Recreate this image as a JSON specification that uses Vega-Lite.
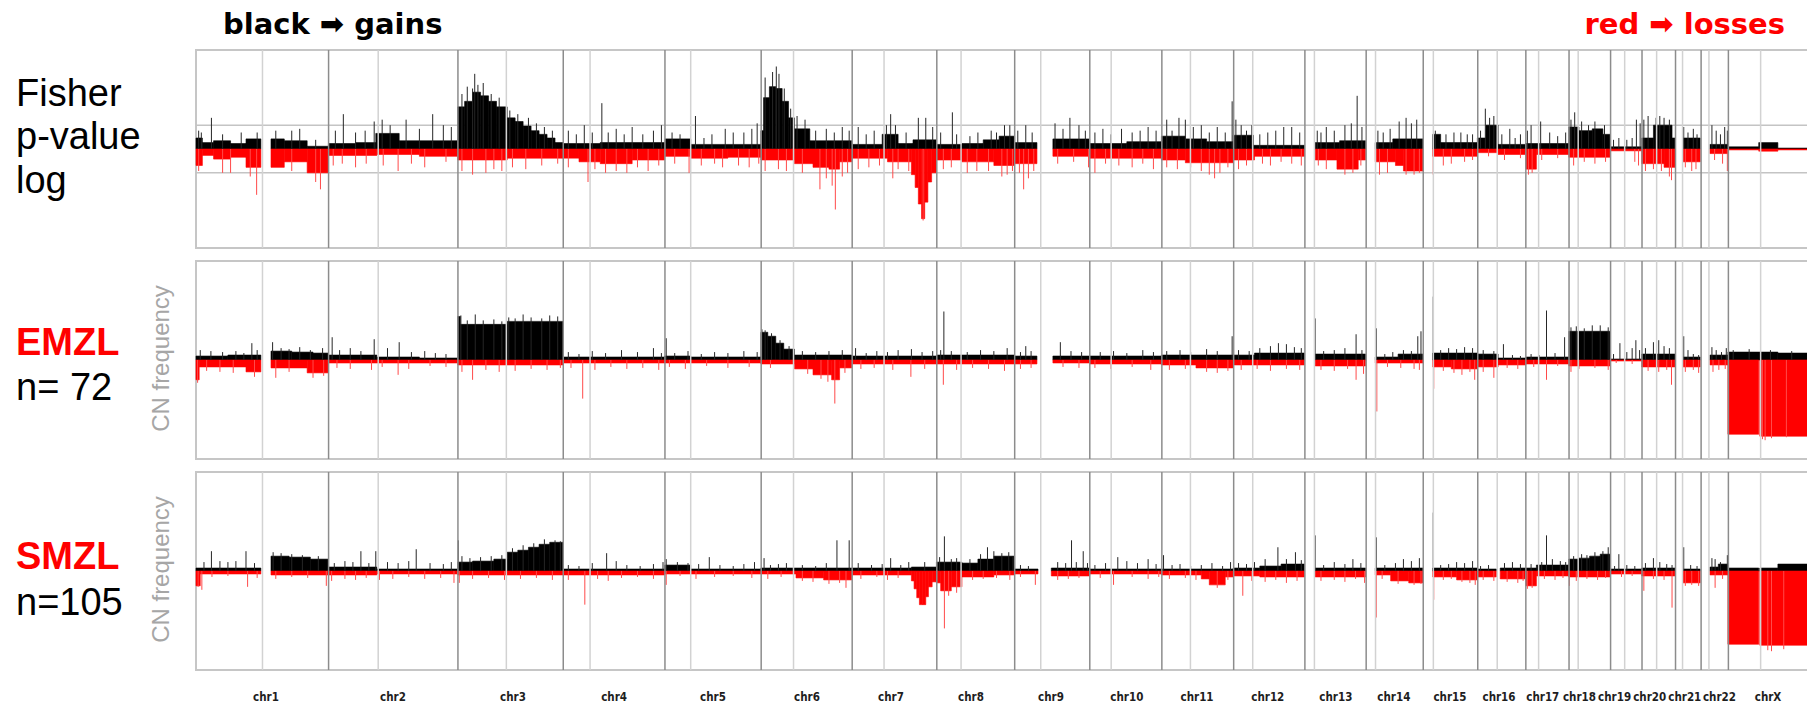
{
  "$schema": "https://vega.github.io/schema/vega-lite/v6.json",
  "background": "white",
  "padding": {"left": 15, "top": 10, "right": 0, "bottom": 0},
  "spacing": 13,
  "bounds": "flush",
  "config": {
    "view": {"stroke": "#c6c6c6", "strokeWidth": 2},
    "axis": {"labelFont": "Liberation Sans"}
  },
  "datasets": {
    "chr": [
      {"c":"chr1","s":0,"cen":125,"m":131.6},
      {"c":"chr2","s":249.25,"cen":342.55,"m":370.4},
      {"c":"chr3","s":492.45,"cen":583.45,"m":596},
      {"c":"chr4","s":690.45,"cen":740.85,"m":786},
      {"c":"chr5","s":881.65,"cen":930.05,"m":972},
      {"c":"chr6","s":1062.55,"cen":1123.35,"m":1148.7},
      {"c":"chr7","s":1233.65,"cen":1293.55,"m":1306.6},
      {"c":"chr8","s":1392.75,"cen":1438.35,"m":1457},
      {"c":"chr9","s":1539.15,"cen":1588.15,"m":1607.4},
      {"c":"chr10","s":1680.35,"cen":1720.55,"m":1750},
      {"c":"chr11","s":1815.85,"cen":1869.55,"m":1882},
      {"c":"chr12","s":1950.85,"cen":1986.65,"m":2015},
      {"c":"chr13","s":2084.75,"cen":2102.65,"m":2143},
      {"c":"chr14","s":2199.95,"cen":2217.55,"m":2252},
      {"c":"chr15","s":2307.25,"cen":2326.25,"m":2357.5},
      {"c":"chr16","s":2409.75,"cen":2446.35,"m":2449.7},
      {"c":"chr17","s":2500.15,"cen":2524.15,"m":2532},
      {"c":"chr18","s":2581.35,"cen":2598.55,"m":2601},
      {"c":"chr19","s":2659.45,"cen":2685.95,"m":2667},
      {"c":"chr20","s":2718.55,"cen":2746.05,"m":2733},
      {"c":"chr21","s":2781.55,"cen":2794.75,"m":2799},
      {"c":"chr22","s":2829.65,"cen":2844.35,"m":2864},
      {"c":"chrX","s":2880.95,"cen":2941.55,"m":2955.5}
    ],
    "segF": [
      {"s":0,"e":12,"v":0.6},{"s":12,"e":33,"v":0.35},{"s":33,"e":65,"v":0.45},{"s":65,"e":94,"v":0.3},{"s":94,"e":122,"v":0.55},{"s":141,"e":166,"v":0.55},{"s":166,"e":209,"v":0.45},{"s":209,"e":249,"v":0.15},
      {"s":0,"e":12,"v":-0.9},{"s":12,"e":33,"v":-0.35},{"s":33,"e":65,"v":-0.55},{"s":65,"e":94,"v":-0.45},{"s":94,"e":122,"v":-1.0},{"s":141,"e":166,"v":-1.0},{"s":166,"e":209,"v":-0.7},{"s":209,"e":249,"v":-1.3},
      {"s":249,"e":300,"v":0.3},{"s":300,"e":338,"v":0.35},{"s":338,"e":382,"v":0.85},{"s":382,"e":491,"v":0.45},
      {"s":249,"e":340,"v":-0.35},{"s":340,"e":420,"v":-0.3},{"s":420,"e":491,"v":-0.4},
      {"s":492,"e":505,"v":2.3},{"s":505,"e":520,"v":2.6},{"s":520,"e":535,"v":3.1},{"s":535,"e":550,"v":2.9},{"s":550,"e":565,"v":2.6},{"s":565,"e":585,"v":2.3},{"s":585,"e":600,"v":1.7},{"s":600,"e":615,"v":1.5},{"s":615,"e":630,"v":1.25},{"s":630,"e":645,"v":1.0},{"s":645,"e":660,"v":0.8},{"s":660,"e":675,"v":0.6},{"s":675,"e":690,"v":0.35},
      {"s":492,"e":585,"v":-0.6},{"s":585,"e":690,"v":-0.5},
      {"s":690,"e":760,"v":0.3},{"s":760,"e":881,"v":0.35},
      {"s":690,"e":720,"v":-0.5},{"s":720,"e":760,"v":-0.7},{"s":760,"e":820,"v":-0.8},{"s":820,"e":881,"v":-0.6},
      {"s":882,"e":930,"v":0.55},{"s":930,"e":1062,"v":0.25},
      {"s":882,"e":930,"v":-0.4},{"s":930,"e":1000,"v":-0.5},{"s":1000,"e":1062,"v":-0.45},
      {"s":1062,"e":1067,"v":1.0},{"s":1067,"e":1078,"v":2.8},{"s":1078,"e":1090,"v":3.4},{"s":1090,"e":1102,"v":3.3},{"s":1102,"e":1114,"v":2.6},{"s":1114,"e":1125,"v":1.7},{"s":1125,"e":1154,"v":1.1},{"s":1154,"e":1233,"v":0.45},
      {"s":1062,"e":1125,"v":-0.6},{"s":1125,"e":1160,"v":-0.8},{"s":1160,"e":1190,"v":-1.0},{"s":1190,"e":1210,"v":-1.1},{"s":1210,"e":1233,"v":-0.7},
      {"s":1233,"e":1290,"v":0.25},{"s":1290,"e":1320,"v":0.8},{"s":1320,"e":1348,"v":0.3},{"s":1348,"e":1392,"v":0.5},
      {"s":1233,"e":1300,"v":-0.5},{"s":1300,"e":1345,"v":-0.7},{"s":1345,"e":1352,"v":-1.4},{"s":1352,"e":1358,"v":-2.1},{"s":1358,"e":1364,"v":-3.0},{"s":1364,"e":1370,"v":-3.8},{"s":1370,"e":1376,"v":-2.9},{"s":1376,"e":1383,"v":-1.8},{"s":1383,"e":1392,"v":-1.3},
      {"s":1392,"e":1440,"v":0.25},{"s":1440,"e":1480,"v":0.3},{"s":1480,"e":1510,"v":0.5},{"s":1510,"e":1539,"v":0.7},
      {"s":1392,"e":1440,"v":-0.6},{"s":1440,"e":1500,"v":-0.7},{"s":1500,"e":1539,"v":-0.9},
      {"s":1539,"e":1581,"v":0.35},{"s":1611,"e":1680,"v":0.55},
      {"s":1539,"e":1581,"v":-0.8},{"s":1611,"e":1680,"v":-0.4},
      {"s":1680,"e":1750,"v":0.3},{"s":1750,"e":1815,"v":0.4},
      {"s":1680,"e":1815,"v":-0.5},
      {"s":1815,"e":1860,"v":0.7},{"s":1860,"e":1900,"v":0.55},{"s":1900,"e":1950,"v":0.4},
      {"s":1815,"e":1860,"v":-0.6},{"s":1860,"e":1950,"v":-0.75},
      {"s":1950,"e":1988,"v":0.75},{"s":1988,"e":2084,"v":0.2},
      {"s":1950,"e":1990,"v":-0.6},{"s":1990,"e":2084,"v":-0.4},
      {"s":2104,"e":2150,"v":0.35},{"s":2150,"e":2199,"v":0.45},
      {"s":2104,"e":2145,"v":-0.6},{"s":2145,"e":2185,"v":-1.1},{"s":2185,"e":2199,"v":-0.6},
      {"s":2217,"e":2250,"v":0.35},{"s":2250,"e":2307,"v":0.55},
      {"s":2217,"e":2255,"v":-0.7},{"s":2255,"e":2270,"v":-0.9},{"s":2270,"e":2307,"v":-1.2},
      {"s":2325,"e":2340,"v":0.8},{"s":2340,"e":2409,"v":0.35},
      {"s":2325,"e":2409,"v":-0.4},
      {"s":2409,"e":2425,"v":0.6},{"s":2425,"e":2448,"v":1.3},{"s":2448,"e":2500,"v":0.25},
      {"s":2409,"e":2448,"v":-0.2},{"s":2448,"e":2500,"v":-0.3},
      {"s":2500,"e":2581,"v":0.3},
      {"s":2500,"e":2520,"v":-1.1},{"s":2520,"e":2581,"v":-0.3},
      {"s":2581,"e":2600,"v":1.2},{"s":2600,"e":2625,"v":1.0},{"s":2625,"e":2645,"v":1.1},{"s":2645,"e":2659,"v":0.8},
      {"s":2581,"e":2659,"v":-0.45},
      {"s":2659,"e":2718,"v":0.12},
      {"s":2659,"e":2718,"v":-0.1},
      {"s":2718,"e":2740,"v":0.6},{"s":2740,"e":2775,"v":1.3},{"s":2775,"e":2781,"v":0.6},
      {"s":2718,"e":2760,"v":-0.8},{"s":2760,"e":2781,"v":-1.0},
      {"s":2795,"e":2828,"v":0.6},
      {"s":2795,"e":2828,"v":-0.7},
      {"s":2846,"e":2880,"v":0.25},
      {"s":2846,"e":2880,"v":-0.25},
      {"s":2880,"e":2938,"v":0.12},{"s":2938,"e":2974,"v":0.35},{"s":2974,"e":3036,"v":0.05},
      {"s":2880,"e":2938,"v":-0.05},{"s":2938,"e":2974,"v":-0.12},{"s":2974,"e":3036,"v":-0.05}
    ],
    "spkF": [
      {"x":5,"v":1.0},{"x":10,"v":0.9},{"x":29,"v":1.7},{"x":50,"v":0.8},{"x":85,"v":0.9},{"x":115,"v":0.9},{"x":150,"v":1.0},{"x":180,"v":1.0},{"x":195,"v":1.1},{"x":225,"v":0.5},
      {"x":5,"v":-1.2},{"x":50,"v":-1.3},{"x":65,"v":-1.3},{"x":102,"v":-1.5},{"x":114,"v":-2.5},{"x":180,"v":-1.2},{"x":225,"v":-1.8},{"x":234,"v":-2.2},
      {"x":262,"v":1.0},{"x":277,"v":1.9},{"x":300,"v":0.9},{"x":318,"v":1.0},{"x":335,"v":1.5},{"x":350,"v":1.6},{"x":365,"v":1.3},{"x":395,"v":1.6},{"x":420,"v":1.1},{"x":445,"v":1.9},{"x":465,"v":1.3},{"x":480,"v":1.2},
      {"x":258,"v":-0.9},{"x":275,"v":-0.8},{"x":300,"v":-1.0},{"x":320,"v":-0.8},{"x":352,"v":-0.9},{"x":380,"v":-1.2},{"x":405,"v":-0.8},{"x":430,"v":-1.0},{"x":470,"v":-0.7},
      {"x":500,"v":3.0},{"x":510,"v":3.4},{"x":520,"v":3.3},{"x":524,"v":4.1},{"x":530,"v":3.5},{"x":540,"v":3.6},{"x":555,"v":3.0},{"x":570,"v":2.8},{"x":590,"v":2.1},{"x":605,"v":1.9},{"x":625,"v":1.7},{"x":640,"v":1.4},{"x":655,"v":1.2},{"x":670,"v":1.0},
      {"x":500,"v":-1.2},{"x":520,"v":-1.4},{"x":545,"v":-1.3},{"x":560,"v":-1.1},{"x":575,"v":-1.2},{"x":595,"v":-1.0},{"x":620,"v":-1.1},{"x":650,"v":-0.9},{"x":680,"v":-0.8},
      {"x":700,"v":1.0},{"x":715,"v":0.8},{"x":730,"v":1.3},{"x":745,"v":0.9},{"x":763,"v":2.5},{"x":775,"v":0.9},{"x":790,"v":1.1},{"x":805,"v":0.8},{"x":820,"v":1.2},{"x":840,"v":0.8},{"x":860,"v":1.0},{"x":875,"v":1.3},
      {"x":700,"v":-1.0},{"x":737,"v":-1.8},{"x":750,"v":-1.1},{"x":770,"v":-1.3},{"x":790,"v":-1.2},{"x":810,"v":-1.3},{"x":830,"v":-1.0},{"x":850,"v":-1.2},{"x":870,"v":-0.9},
      {"x":895,"v":0.9},{"x":910,"v":0.8},{"x":939,"v":1.8},{"x":955,"v":0.6},{"x":970,"v":0.8},{"x":995,"v":1.1},{"x":1010,"v":0.9},{"x":1030,"v":0.9},{"x":1045,"v":1.1},{"x":1055,"v":1.4},
      {"x":900,"v":-0.8},{"x":927,"v":-1.3},{"x":950,"v":-0.9},{"x":975,"v":-0.8},{"x":990,"v":-1.0},{"x":1020,"v":-0.9},{"x":1040,"v":-1.0},{"x":1058,"v":-0.8},
      {"x":1070,"v":3.9},{"x":1084,"v":4.2},{"x":1091,"v":4.5},{"x":1096,"v":4.1},{"x":1106,"v":3.3},{"x":1118,"v":2.2},{"x":1130,"v":1.8},{"x":1145,"v":1.6},{"x":1165,"v":1.0},{"x":1185,"v":1.1},{"x":1200,"v":0.9},{"x":1215,"v":1.2},{"x":1228,"v":1.0},
      {"x":1070,"v":-1.2},{"x":1095,"v":-1.1},{"x":1110,"v":-1.2},{"x":1140,"v":-1.3},{"x":1173,"v":-2.2},{"x":1185,"v":-1.6},{"x":1196,"v":-2.0},{"x":1202,"v":-3.3},{"x":1215,"v":-1.5},{"x":1225,"v":-1.3},
      {"x":1245,"v":1.2},{"x":1260,"v":0.8},{"x":1275,"v":1.0},{"x":1298,"v":1.3},{"x":1306,"v":1.9},{"x":1315,"v":1.3},{"x":1335,"v":0.9},{"x":1358,"v":1.7},{"x":1372,"v":1.7},{"x":1385,"v":1.2},
      {"x":1245,"v":-1.1},{"x":1265,"v":-1.0},{"x":1285,"v":-0.9},{"x":1310,"v":-1.6},{"x":1320,"v":-1.1},{"x":1340,"v":-1.2},{"x":1367,"v":-3.9},
      {"x":1400,"v":0.9},{"x":1422,"v":2.0},{"x":1430,"v":0.8},{"x":1455,"v":0.7},{"x":1470,"v":0.9},{"x":1495,"v":1.0},{"x":1505,"v":0.9},{"x":1520,"v":1.3},{"x":1530,"v":1.3},
      {"x":1405,"v":-1.1},{"x":1420,"v":-1.0},{"x":1450,"v":-1.3},{"x":1468,"v":-1.2},{"x":1490,"v":-1.2},{"x":1515,"v":-1.5},{"x":1525,"v":-1.4},{"x":1535,"v":-1.2},
      {"x":1545,"v":1.0},{"x":1560,"v":1.3},{"x":1572,"v":0.9},{"x":1615,"v":1.4},{"x":1630,"v":1.1},{"x":1643,"v":1.7},{"x":1660,"v":1.3},{"x":1672,"v":1.0},
      {"x":1548,"v":-1.3},{"x":1556,"v":-2.2},{"x":1565,"v":-1.6},{"x":1575,"v":-1.2},{"x":1620,"v":-0.8},{"x":1650,"v":-0.7},{"x":1678,"v":-1.0},
      {"x":1690,"v":0.9},{"x":1705,"v":1.1},{"x":1720,"v":0.8},{"x":1740,"v":1.1},{"x":1760,"v":0.9},{"x":1775,"v":1.0},{"x":1790,"v":1.2},{"x":1805,"v":1.0},
      {"x":1690,"v":-1.3},{"x":1710,"v":-0.8},{"x":1735,"v":-0.9},{"x":1760,"v":-1.0},{"x":1780,"v":-0.8},{"x":1800,"v":-1.1},
      {"x":1825,"v":1.6},{"x":1835,"v":1.0},{"x":1848,"v":1.7},{"x":1860,"v":1.6},{"x":1875,"v":1.2},{"x":1890,"v":1.3},{"x":1905,"v":0.9},{"x":1920,"v":1.2},{"x":1935,"v":0.9},{"x":1948,"v":2.6},
      {"x":1825,"v":-1.0},{"x":1845,"v":-1.1},{"x":1870,"v":-1.0},{"x":1890,"v":-1.2},{"x":1905,"v":-1.4},{"x":1915,"v":-1.6},{"x":1925,"v":-1.3},{"x":1940,"v":-1.0},
      {"x":1955,"v":1.6},{"x":1965,"v":1.3},{"x":1975,"v":1.0},{"x":1985,"v":1.3},{"x":2000,"v":0.8},{"x":2015,"v":0.9},{"x":2030,"v":1.0},{"x":2045,"v":1.2},{"x":2060,"v":1.2},{"x":2075,"v":0.9},
      {"x":1960,"v":-1.1},{"x":1975,"v":-0.9},{"x":2005,"v":-0.8},{"x":2020,"v":-0.9},{"x":2040,"v":-0.7},{"x":2060,"v":-0.8},{"x":2078,"v":-0.9},
      {"x":2108,"v":1.0},{"x":2115,"v":0.9},{"x":2125,"v":1.2},{"x":2140,"v":1.0},{"x":2160,"v":1.3},{"x":2172,"v":1.4},{"x":2183,"v":2.9},{"x":2192,"v":1.2},
      {"x":2110,"v":-0.9},{"x":2125,"v":-1.1},{"x":2160,"v":-1.4},{"x":2175,"v":-1.3},{"x":2190,"v":-0.9},
      {"x":2222,"v":1.0},{"x":2232,"v":0.9},{"x":2245,"v":1.1},{"x":2262,"v":1.5},{"x":2275,"v":1.7},{"x":2285,"v":1.4},{"x":2295,"v":1.6},
      {"x":2225,"v":-1.4},{"x":2240,"v":-1.3},{"x":2275,"v":-1.4},{"x":2290,"v":-1.4},{"x":2300,"v":-1.3},
      {"x":2330,"v":1.0},{"x":2350,"v":0.8},{"x":2365,"v":0.9},{"x":2378,"v":0.9},{"x":2390,"v":0.8},{"x":2400,"v":0.8},
      {"x":2326,"v":-1.4},{"x":2345,"v":-0.9},{"x":2360,"v":-0.8},{"x":2385,"v":-0.7},{"x":2400,"v":-0.6},
      {"x":2415,"v":1.0},{"x":2424,"v":2.2},{"x":2432,"v":1.7},{"x":2440,"v":1.8},{"x":2455,"v":0.8},{"x":2470,"v":1.1},{"x":2480,"v":0.6},{"x":2490,"v":0.8},
      {"x":2430,"v":-0.4},{"x":2460,"v":-0.6},{"x":2490,"v":-0.5},
      {"x":2503,"v":1.0},{"x":2510,"v":1.3},{"x":2528,"v":1.5},{"x":2545,"v":0.9},{"x":2560,"v":0.7},{"x":2575,"v":0.9},
      {"x":2505,"v":-1.4},{"x":2512,"v":-1.3},{"x":2530,"v":-0.6},{"x":2560,"v":-0.5},
      {"x":2585,"v":1.6},{"x":2592,"v":2.0},{"x":2605,"v":1.5},{"x":2618,"v":1.3},{"x":2630,"v":1.5},{"x":2648,"v":1.3},
      {"x":2590,"v":-0.9},{"x":2610,"v":-0.7},{"x":2630,"v":-0.8},{"x":2650,"v":-0.7},
      {"x":2665,"v":0.5},{"x":2675,"v":0.6},{"x":2690,"v":0.5},{"x":2700,"v":0.6},{"x":2708,"v":1.6},{"x":2715,"v":1.4},
      {"x":2705,"v":-0.7},{"x":2712,"v":-0.9},
      {"x":2722,"v":1.6},{"x":2730,"v":1.8},{"x":2745,"v":1.7},{"x":2752,"v":1.8},{"x":2760,"v":1.7},{"x":2770,"v":1.6},
      {"x":2725,"v":-1.2},{"x":2740,"v":-1.1},{"x":2755,"v":-1.2},{"x":2770,"v":-1.5},{"x":2774,"v":-1.7},
      {"x":2797,"v":1.2},{"x":2805,"v":0.9},{"x":2815,"v":1.1},{"x":2822,"v":0.8},
      {"x":2800,"v":-1.0},{"x":2812,"v":-1.2},{"x":2820,"v":-1.1},
      {"x":2850,"v":1.3},{"x":2858,"v":1.0},{"x":2866,"v":0.8},{"x":2874,"v":1.2},{"x":2879,"v":1.0},
      {"x":2855,"v":-0.6},{"x":2870,"v":-0.8},{"x":2879,"v":-1.2}
    ],
    "segE": [
      {"s":0,"e":60,"v":4},{"s":60,"e":122,"v":5},{"s":141,"e":180,"v":9},{"s":180,"e":220,"v":8},{"s":220,"e":249,"v":7},
      {"s":0,"e":6,"v":-20},{"s":6,"e":94,"v":-7},{"s":94,"e":122,"v":-12},{"s":141,"e":209,"v":-8},{"s":209,"e":249,"v":-13},
      {"s":249,"e":340,"v":5},{"s":340,"e":420,"v":3},{"s":420,"e":491,"v":2},
      {"s":249,"e":491,"v":-3},
      {"s":492,"e":497,"v":44},{"s":497,"e":585,"v":36},{"s":585,"e":690,"v":39},
      {"s":492,"e":690,"v":-5},
      {"s":690,"e":881,"v":3},{"s":690,"e":881,"v":-3},
      {"s":881,"e":930,"v":4},{"s":930,"e":1062,"v":3},{"s":881,"e":1062,"v":-3},
      {"s":1062,"e":1075,"v":28},{"s":1075,"e":1090,"v":24},{"s":1090,"e":1105,"v":17},{"s":1105,"e":1125,"v":11},{"s":1125,"e":1233,"v":5},
      {"s":1062,"e":1125,"v":-4},{"s":1125,"e":1160,"v":-9},{"s":1160,"e":1195,"v":-15},{"s":1195,"e":1210,"v":-20},{"s":1210,"e":1233,"v":-8},
      {"s":1233,"e":1392,"v":4},{"s":1233,"e":1392,"v":-4},
      {"s":1392,"e":1539,"v":5},{"s":1392,"e":1539,"v":-4},
      {"s":1539,"e":1581,"v":4},{"s":1611,"e":1680,"v":4},{"s":1539,"e":1581,"v":-4},{"s":1611,"e":1680,"v":-3},
      {"s":1680,"e":1815,"v":4},{"s":1680,"e":1815,"v":-4},
      {"s":1815,"e":1950,"v":5},{"s":1815,"e":1880,"v":-5},{"s":1880,"e":1950,"v":-8},
      {"s":1950,"e":1990,"v":5},{"s":1990,"e":2084,"v":7},{"s":1950,"e":2084,"v":-5},
      {"s":2104,"e":2199,"v":6},{"s":2104,"e":2199,"v":-6},
      {"s":2217,"e":2260,"v":3},{"s":2260,"e":2307,"v":6},{"s":2217,"e":2307,"v":-3},
      {"s":2325,"e":2409,"v":7},{"s":2325,"e":2360,"v":-7},{"s":2360,"e":2409,"v":-9},
      {"s":2409,"e":2448,"v":6},{"s":2448,"e":2500,"v":2},{"s":2409,"e":2448,"v":-7},{"s":2448,"e":2500,"v":-5},
      {"s":2500,"e":2581,"v":3},{"s":2500,"e":2581,"v":-4},
      {"s":2581,"e":2659,"v":29},{"s":2581,"e":2659,"v":-6},
      {"s":2659,"e":2718,"v":1},{"s":2659,"e":2718,"v":-1},
      {"s":2718,"e":2781,"v":6},{"s":2718,"e":2781,"v":-7},
      {"s":2795,"e":2828,"v":3},{"s":2795,"e":2828,"v":-7},
      {"s":2846,"e":2880,"v":5},{"s":2846,"e":2880,"v":-5},
      {"s":2880,"e":2974,"v":8},{"s":2974,"e":3036,"v":7},{"s":2880,"e":2938,"v":-75},{"s":2940,"e":3036,"v":-77}
    ],
    "spkE": [
      {"x":8,"v":10},{"x":28,"v":9},{"x":50,"v":8},{"x":75,"v":9},{"x":90,"v":7},{"x":105,"v":17},{"x":115,"v":10},{"x":144,"v":18},{"x":160,"v":12},{"x":175,"v":11},{"x":195,"v":13},{"x":215,"v":10},{"x":238,"v":12},
      {"x":3,"v":-23},{"x":20,"v":-11},{"x":45,"v":-12},{"x":70,"v":-13},{"x":110,"v":-17},{"x":150,"v":-18},{"x":175,"v":-12},{"x":220,"v":-18},{"x":240,"v":-16},
      {"x":256,"v":23},{"x":270,"v":10},{"x":290,"v":12},{"x":310,"v":9},{"x":335,"v":21},{"x":360,"v":12},{"x":382,"v":18},{"x":405,"v":8},{"x":430,"v":9},{"x":450,"v":7},{"x":470,"v":6},
      {"x":265,"v":-8},{"x":290,"v":-9},{"x":330,"v":-10},{"x":350,"v":-7},{"x":380,"v":-15},{"x":400,"v":-9},{"x":440,"v":-6},{"x":470,"v":-7},
      {"x":498,"v":45},{"x":510,"v":40},{"x":525,"v":46},{"x":540,"v":40},{"x":560,"v":41},{"x":575,"v":39},{"x":588,"v":43},{"x":600,"v":42},{"x":615,"v":46},{"x":630,"v":43},{"x":650,"v":42},{"x":665,"v":45},{"x":680,"v":44},
      {"x":500,"v":-12},{"x":520,"v":-20},{"x":545,"v":-10},{"x":570,"v":-12},{"x":600,"v":-11},{"x":630,"v":-9},{"x":660,"v":-10},{"x":685,"v":-8},
      {"x":700,"v":8},{"x":720,"v":6},{"x":745,"v":9},{"x":770,"v":7},{"x":800,"v":10},{"x":830,"v":8},{"x":860,"v":12},{"x":875,"v":7},
      {"x":705,"v":-8},{"x":727,"v":-39},{"x":750,"v":-10},{"x":780,"v":-7},{"x":810,"v":-9},{"x":840,"v":-8},{"x":870,"v":-10},
      {"x":884,"v":22},{"x":900,"v":7},{"x":925,"v":9},{"x":950,"v":6},{"x":975,"v":8},{"x":1000,"v":7},{"x":1030,"v":9},{"x":1055,"v":8},
      {"x":890,"v":-7},{"x":920,"v":-9},{"x":960,"v":-6},{"x":1000,"v":-8},{"x":1040,"v":-7},
      {"x":1064,"v":31},{"x":1070,"v":30},{"x":1082,"v":27},{"x":1098,"v":20},{"x":1115,"v":14},{"x":1140,"v":9},{"x":1165,"v":8},{"x":1190,"v":9},{"x":1215,"v":10},
      {"x":1080,"v":-8},{"x":1150,"v":-14},{"x":1175,"v":-19},{"x":1188,"v":-22},{"x":1201,"v":-44},{"x":1220,"v":-13},
      {"x":1240,"v":12},{"x":1260,"v":7},{"x":1280,"v":9},{"x":1300,"v":8},{"x":1320,"v":10},{"x":1345,"v":11},{"x":1365,"v":8},{"x":1385,"v":9},
      {"x":1250,"v":-9},{"x":1275,"v":-8},{"x":1310,"v":-10},{"x":1344,"v":-17},{"x":1370,"v":-9},
      {"x":1400,"v":10},{"x":1406,"v":49},{"x":1420,"v":9},{"x":1450,"v":8},{"x":1475,"v":10},{"x":1500,"v":9},{"x":1525,"v":12},
      {"x":1405,"v":-25},{"x":1430,"v":-10},{"x":1460,"v":-8},{"x":1490,"v":-9},{"x":1520,"v":-11},
      {"x":1550,"v":8},{"x":1560,"v":14},{"x":1570,"v":9},{"x":1625,"v":18},{"x":1645,"v":9},{"x":1665,"v":8},
      {"x":1550,"v":-9},{"x":1570,"v":-8},{"x":1630,"v":-7},{"x":1660,"v":-8},
      {"x":1700,"v":8},{"x":1725,"v":9},{"x":1750,"v":7},{"x":1780,"v":10},{"x":1800,"v":8},
      {"x":1690,"v":-8},{"x":1720,"v":-9},{"x":1760,"v":-7},{"x":1795,"v":-10},
      {"x":1825,"v":9},{"x":1850,"v":10},{"x":1870,"v":8},{"x":1900,"v":11},{"x":1920,"v":9},{"x":1948,"v":24},
      {"x":1830,"v":-10},{"x":1860,"v":-9},{"x":1900,"v":-12},{"x":1920,"v":-13},{"x":1940,"v":-11},
      {"x":1960,"v":10},{"x":1980,"v":9},{"x":2000,"v":12},{"x":2020,"v":14},{"x":2035,"v":17},{"x":2050,"v":16},{"x":2065,"v":13},{"x":2078,"v":12},
      {"x":1965,"v":-10},{"x":1995,"v":-9},{"x":2020,"v":-11},{"x":2050,"v":-9},{"x":2075,"v":-10},
      {"x":2104,"v":42},{"x":2120,"v":9},{"x":2140,"v":10},{"x":2160,"v":12},{"x":2181,"v":26},{"x":2192,"v":10},
      {"x":2115,"v":-10},{"x":2140,"v":-11},{"x":2165,"v":-9},{"x":2181,"v":-20},{"x":2195,"v":-14},
      {"x":2219,"v":32},{"x":2235,"v":6},{"x":2250,"v":8},{"x":2270,"v":10},{"x":2285,"v":9},{"x":2297,"v":24},{"x":2303,"v":29},
      {"x":2220,"v":-52},{"x":2240,"v":-7},{"x":2265,"v":-8},{"x":2290,"v":-9},{"x":2300,"v":-10},
      {"x":2326,"v":64},{"x":2340,"v":10},{"x":2355,"v":12},{"x":2370,"v":11},{"x":2385,"v":13},{"x":2400,"v":12},
      {"x":2327,"v":-29},{"x":2345,"v":-11},{"x":2365,"v":-13},{"x":2380,"v":-15},{"x":2395,"v":-12},{"x":2404,"v":-20},
      {"x":2420,"v":10},{"x":2440,"v":9},{"x":2458,"v":16},{"x":2475,"v":5},{"x":2490,"v":4},
      {"x":2420,"v":-12},{"x":2440,"v":-18},{"x":2465,"v":-8},{"x":2485,"v":-9},
      {"x":2510,"v":6},{"x":2525,"v":5},{"x":2539,"v":50},{"x":2555,"v":7},{"x":2573,"v":23},
      {"x":2515,"v":-7},{"x":2539,"v":-20},{"x":2560,"v":-6},
      {"x":2585,"v":33},{"x":2595,"v":34},{"x":2610,"v":32},{"x":2625,"v":35},{"x":2640,"v":35},{"x":2655,"v":33},
      {"x":2585,"v":-12},{"x":2600,"v":-9},{"x":2630,"v":-8},{"x":2655,"v":-10},
      {"x":2665,"v":6},{"x":2677,"v":17},{"x":2690,"v":8},{"x":2700,"v":12},{"x":2707,"v":20},{"x":2714,"v":10},
      {"x":2670,"v":-3},{"x":2700,"v":-4},
      {"x":2725,"v":12},{"x":2740,"v":18},{"x":2750,"v":20},{"x":2760,"v":14},{"x":2770,"v":12},
      {"x":2730,"v":-11},{"x":2750,"v":-12},{"x":2765,"v":-10},{"x":2774,"v":-25},
      {"x":2797,"v":24},{"x":2805,"v":10},{"x":2815,"v":6},{"x":2825,"v":5},
      {"x":2800,"v":-12},{"x":2815,"v":-10},{"x":2825,"v":-13},
      {"x":2850,"v":13},{"x":2858,"v":10},{"x":2868,"v":8},{"x":2877,"v":12},
      {"x":2852,"v":-12},{"x":2863,"v":-10},{"x":2875,"v":-9},
      {"x":2890,"v":10},{"x":2920,"v":11},{"x":2960,"v":10},{"x":3000,"v":9},
      {"x":2945,"v":-80},{"x":2950,"v":-81},{"x":2962,"v":-79},{"x":2990,"v":-78}
    ],
    "segS": [
      {"s":0,"e":122,"v":3},{"s":141,"e":175,"v":15},{"s":175,"e":215,"v":14},{"s":215,"e":249,"v":12},
      {"s":0,"e":8,"v":-15},{"s":8,"e":122,"v":-3},{"s":141,"e":249,"v":-4},
      {"s":249,"e":340,"v":4},{"s":340,"e":491,"v":2},{"s":249,"e":340,"v":-4},{"s":340,"e":491,"v":-3},
      {"s":492,"e":520,"v":9},{"s":520,"e":560,"v":10},{"s":560,"e":585,"v":12},{"s":585,"e":605,"v":19},{"s":605,"e":625,"v":21},{"s":625,"e":645,"v":24},{"s":645,"e":665,"v":27},{"s":665,"e":690,"v":29},
      {"s":492,"e":690,"v":-4},
      {"s":690,"e":881,"v":2},{"s":690,"e":881,"v":-4},
      {"s":881,"e":930,"v":6},{"s":930,"e":1062,"v":2},{"s":881,"e":1062,"v":-3},
      {"s":1062,"e":1233,"v":3},{"s":1062,"e":1128,"v":-3},{"s":1128,"e":1180,"v":-7},{"s":1180,"e":1233,"v":-9},
      {"s":1233,"e":1345,"v":3},{"s":1345,"e":1392,"v":4},
      {"s":1233,"e":1345,"v":-4},{"s":1345,"e":1350,"v":-10},{"s":1350,"e":1355,"v":-18},{"s":1355,"e":1360,"v":-27},{"s":1360,"e":1366,"v":-34},{"s":1366,"e":1372,"v":-34},{"s":1372,"e":1377,"v":-26},{"s":1377,"e":1384,"v":-16},{"s":1384,"e":1392,"v":-11},
      {"s":1392,"e":1440,"v":9},{"s":1440,"e":1470,"v":8},{"s":1470,"e":1500,"v":12},{"s":1500,"e":1539,"v":15},
      {"s":1392,"e":1400,"v":-12},{"s":1400,"e":1420,"v":-20},{"s":1420,"e":1440,"v":-16},{"s":1440,"e":1500,"v":-6},{"s":1500,"e":1539,"v":-4},
      {"s":1539,"e":1583,"v":2},{"s":1608,"e":1680,"v":3},{"s":1539,"e":1583,"v":-3},{"s":1608,"e":1680,"v":-5},
      {"s":1680,"e":1815,"v":2},{"s":1680,"e":1815,"v":-3},
      {"s":1815,"e":1950,"v":2},{"s":1815,"e":1890,"v":-4},{"s":1890,"e":1905,"v":-8},{"s":1905,"e":1935,"v":-14},{"s":1935,"e":1950,"v":-6},
      {"s":1950,"e":2000,"v":3},{"s":2000,"e":2040,"v":5},{"s":2040,"e":2084,"v":7},{"s":1950,"e":2000,"v":-5},{"s":2000,"e":2084,"v":-6},
      {"s":2104,"e":2199,"v":3},{"s":2104,"e":2199,"v":-6},
      {"s":2217,"e":2307,"v":3},{"s":2217,"e":2246,"v":-4},{"s":2246,"e":2280,"v":-10},{"s":2280,"e":2307,"v":-12},
      {"s":2325,"e":2409,"v":3},{"s":2325,"e":2370,"v":-6},{"s":2370,"e":2409,"v":-9},
      {"s":2409,"e":2445,"v":2},{"s":2452,"e":2500,"v":3},{"s":2409,"e":2445,"v":-6},{"s":2452,"e":2500,"v":-8},
      {"s":2500,"e":2520,"v":3},{"s":2520,"e":2581,"v":6},{"s":2500,"e":2520,"v":-15},{"s":2520,"e":2581,"v":-5},
      {"s":2581,"e":2600,"v":12},{"s":2600,"e":2620,"v":13},{"s":2620,"e":2640,"v":15},{"s":2640,"e":2659,"v":17},{"s":2581,"e":2659,"v":-6},
      {"s":2659,"e":2718,"v":2},{"s":2659,"e":2718,"v":-3},
      {"s":2718,"e":2781,"v":3},{"s":2718,"e":2781,"v":-5},
      {"s":2795,"e":2828,"v":2},{"s":2795,"e":2828,"v":-12},
      {"s":2846,"e":2862,"v":4},{"s":2862,"e":2880,"v":7},{"s":2846,"e":2880,"v":-4},
      {"s":2880,"e":2938,"v":3},{"s":2940,"e":2974,"v":3},{"s":2974,"e":3036,"v":7},{"s":2880,"e":2938,"v":-74},{"s":2940,"e":3036,"v":-75}
    ],
    "spkS": [
      {"x":15,"v":9},{"x":29,"v":20},{"x":45,"v":10},{"x":60,"v":9},{"x":75,"v":10},{"x":94,"v":20},{"x":110,"v":8},{"x":145,"v":19},{"x":160,"v":18},{"x":180,"v":17},{"x":200,"v":16},{"x":230,"v":15},
      {"x":4,"v":-16},{"x":11,"v":-19},{"x":30,"v":-6},{"x":60,"v":-5},{"x":97,"v":-16},{"x":115,"v":-7},{"x":150,"v":-8},{"x":180,"v":-6},{"x":210,"v":-7},{"x":245,"v":-15},
      {"x":260,"v":8},{"x":280,"v":10},{"x":295,"v":9},{"x":310,"v":20},{"x":325,"v":8},{"x":338,"v":20},{"x":360,"v":9},{"x":380,"v":8},{"x":400,"v":10},{"x":414,"v":22},{"x":440,"v":8},{"x":465,"v":7},{"x":480,"v":9},
      {"x":255,"v":-10},{"x":280,"v":-8},{"x":300,"v":-9},{"x":320,"v":-7},{"x":345,"v":-9},{"x":370,"v":-8},{"x":400,"v":-6},{"x":430,"v":-8},{"x":460,"v":-7},{"x":485,"v":-12},
      {"x":493,"v":31},{"x":500,"v":15},{"x":515,"v":13},{"x":535,"v":14},{"x":555,"v":15},{"x":575,"v":16},{"x":595,"v":23},{"x":615,"v":26},{"x":635,"v":28},{"x":655,"v":32},{"x":675,"v":31},{"x":685,"v":30},
      {"x":495,"v":-12},{"x":520,"v":-8},{"x":550,"v":-7},{"x":580,"v":-9},{"x":610,"v":-8},{"x":640,"v":-7},{"x":670,"v":-9},
      {"x":700,"v":6},{"x":720,"v":5},{"x":745,"v":8},{"x":772,"v":18},{"x":790,"v":10},{"x":810,"v":6},{"x":835,"v":5},{"x":860,"v":7},{"x":878,"v":9},
      {"x":700,"v":-9},{"x":731,"v":-34},{"x":755,"v":-8},{"x":775,"v":-10},{"x":800,"v":-7},{"x":830,"v":-6},{"x":860,"v":-8},
      {"x":884,"v":12},{"x":905,"v":9},{"x":925,"v":8},{"x":945,"v":7},{"x":965,"v":14},{"x":985,"v":6},{"x":1010,"v":5},{"x":1030,"v":7},{"x":1050,"v":9},
      {"x":884,"v":-14},{"x":910,"v":-5},{"x":940,"v":-8},{"x":975,"v":-6},{"x":1010,"v":-5},{"x":1045,"v":-7},
      {"x":1068,"v":13},{"x":1080,"v":6},{"x":1095,"v":7},{"x":1110,"v":8},{"x":1140,"v":6},{"x":1165,"v":5},{"x":1185,"v":8},{"x":1205,"v":31},{"x":1228,"v":31},
      {"x":1075,"v":-8},{"x":1100,"v":-6},{"x":1140,"v":-10},{"x":1160,"v":-11},{"x":1190,"v":-13},{"x":1210,"v":-12},{"x":1222,"v":-17},
      {"x":1245,"v":8},{"x":1270,"v":6},{"x":1290,"v":7},{"x":1306,"v":13},{"x":1325,"v":6},{"x":1340,"v":9},{"x":1370,"v":9},
      {"x":1250,"v":-8},{"x":1280,"v":-6},{"x":1300,"v":-9},{"x":1320,"v":-7},
      {"x":1398,"v":14},{"x":1407,"v":35},{"x":1420,"v":12},{"x":1430,"v":13},{"x":1455,"v":12},{"x":1475,"v":17},{"x":1488,"v":24},{"x":1500,"v":20},{"x":1515,"v":18},{"x":1528,"v":19},{"x":1536,"v":14},
      {"x":1407,"v":-58},{"x":1415,"v":-25},{"x":1430,"v":-22},{"x":1460,"v":-9},{"x":1480,"v":-8},{"x":1505,"v":-7},{"x":1530,"v":-9},
      {"x":1550,"v":6},{"x":1565,"v":5},{"x":1620,"v":9},{"x":1635,"v":8},{"x":1646,"v":31},{"x":1655,"v":9},{"x":1668,"v":20},{"x":1676,"v":8},
      {"x":1550,"v":-6},{"x":1578,"v":-14},{"x":1620,"v":-9},{"x":1640,"v":-8},{"x":1660,"v":-7},
      {"x":1690,"v":6},{"x":1710,"v":8},{"x":1733,"v":14},{"x":1750,"v":10},{"x":1770,"v":8},{"x":1790,"v":12},{"x":1805,"v":7},
      {"x":1700,"v":-7},{"x":1725,"v":-14},{"x":1760,"v":-6},{"x":1790,"v":-8},{"x":1810,"v":-6},
      {"x":1819,"v":16},{"x":1835,"v":6},{"x":1850,"v":7},{"x":1870,"v":5},{"x":1890,"v":6},{"x":1910,"v":8},{"x":1930,"v":5},{"x":1945,"v":9},
      {"x":1830,"v":-8},{"x":1860,"v":-7},{"x":1880,"v":-9},{"x":1920,"v":-17},{"x":1940,"v":-9},
      {"x":1960,"v":8},{"x":1975,"v":7},{"x":1990,"v":9},{"x":2010,"v":12},{"x":2034,"v":24},{"x":2050,"v":12},{"x":2067,"v":19},{"x":2078,"v":11},
      {"x":1968,"v":-25},{"x":1985,"v":-10},{"x":2010,"v":-11},{"x":2030,"v":-9},{"x":2050,"v":-12},{"x":2070,"v":-10},
      {"x":2104,"v":36},{"x":2120,"v":6},{"x":2140,"v":9},{"x":2160,"v":7},{"x":2175,"v":12},{"x":2190,"v":8},
      {"x":2115,"v":-10},{"x":2140,"v":-9},{"x":2160,"v":-11},{"x":2180,"v":-8},{"x":2197,"v":-12},
      {"x":2219,"v":34},{"x":2235,"v":6},{"x":2255,"v":8},{"x":2270,"v":12},{"x":2285,"v":10},{"x":2300,"v":13},
      {"x":2219,"v":-47},{"x":2230,"v":-8},{"x":2260,"v":-13},{"x":2290,"v":-14},{"x":2303,"v":-13},
      {"x":2326,"v":59},{"x":2340,"v":6},{"x":2355,"v":7},{"x":2370,"v":9},{"x":2385,"v":8},{"x":2400,"v":10},
      {"x":2327,"v":-29},{"x":2345,"v":-9},{"x":2360,"v":-8},{"x":2380,"v":-11},{"x":2395,"v":-12},{"x":2405,"v":-14},
      {"x":2415,"v":5},{"x":2430,"v":6},{"x":2460,"v":8},{"x":2475,"v":9},{"x":2490,"v":7},
      {"x":2420,"v":-9},{"x":2440,"v":-10},{"x":2465,"v":-11},{"x":2485,"v":-12},{"x":2495,"v":-10},
      {"x":2510,"v":7},{"x":2530,"v":9},{"x":2539,"v":36},{"x":2550,"v":12},{"x":2565,"v":10},{"x":2575,"v":9},
      {"x":2503,"v":-18},{"x":2512,"v":-17},{"x":2535,"v":-8},{"x":2555,"v":-9},{"x":2570,"v":-7},
      {"x":2590,"v":15},{"x":2605,"v":17},{"x":2615,"v":16},{"x":2630,"v":19},{"x":2645,"v":20},{"x":2655,"v":24},
      {"x":2582,"v":-15},{"x":2595,"v":-10},{"x":2615,"v":-8},{"x":2635,"v":-9},{"x":2650,"v":-7},
      {"x":2667,"v":5},{"x":2675,"v":17},{"x":2690,"v":6},{"x":2705,"v":5},
      {"x":2680,"v":-6},{"x":2700,"v":-5},
      {"x":2725,"v":8},{"x":2740,"v":13},{"x":2752,"v":9},{"x":2765,"v":7},{"x":2775,"v":6},
      {"x":2722,"v":-20},{"x":2740,"v":-8},{"x":2760,"v":-9},{"x":2775,"v":-37},
      {"x":2797,"v":24},{"x":2810,"v":6},{"x":2822,"v":5},
      {"x":2800,"v":-15},{"x":2812,"v":-14},{"x":2825,"v":-15},
      {"x":2850,"v":13},{"x":2856,"v":12},{"x":2866,"v":9},{"x":2879,"v":16},
      {"x":2856,"v":-17},{"x":2870,"v":-8},
      {"x":2955,"v":-80},{"x":2962,"v":-81},{"x":2985,"v":-79}
    ]
  },
  "vconcat": [
    {
      "width": 1615,
      "height": 198,
      "layer": [
        {
          "data": {"values": [{"t": 1.3}, {"t": -1.3}]},
          "mark": {"type": "rule", "color": "#c4c4c4", "strokeWidth": 1.5},
          "encoding": {"y": {"field": "t", "type": "quantitative", "axis": null}}
        },
        {
          "data": {"name": "segF"},
          "mark": {"type": "rect", "strokeWidth": 0.6},
          "encoding": {
            "x": {"field": "s", "type": "quantitative", "scale": {"domain": [0, 3036.25], "nice": false, "zero": false}, "axis": null},
            "x2": {"field": "e"},
            "y": {"field": "v", "type": "quantitative", "scale": {"domain": [-5.4, 5.4], "nice": false, "zero": false},
                  "axis": {"title": null, "values": [-4, -2, 0, 2, 4], "labelFontSize": 6, "labelColor": "#999999", "ticks": false, "domain": false, "grid": false, "labelPadding": 7}},
            "y2": {"datum": 0},
            "color": {"condition": {"test": "datum.v < 0", "value": "#ff0000"}, "value": "#000000"},
            "stroke": {"condition": {"test": "datum.v < 0", "value": "#ff0000"}, "value": "#000000"}
          }
        },
        {
          "data": {"name": "spkF"},
          "mark": {"type": "rule", "strokeWidth": 1},
          "encoding": {
            "x": {"field": "x", "type": "quantitative", "axis": null},
            "y": {"field": "v", "type": "quantitative", "axis": null},
            "y2": {"datum": 0},
            "color": {"condition": {"test": "datum.v < 0", "value": "#ff4a4a"}, "value": "#262626"}
          }
        },
        {
          "data": {"name": "chr"},
          "transform": [{"filter": "datum.s > 0"}],
          "mark": {"type": "rule", "color": "#8c8c8c", "strokeWidth": 1.5},
          "encoding": {"x": {"field": "s", "type": "quantitative", "axis": null}}
        },
        {
          "data": {"name": "chr"},
          "mark": {"type": "rule", "color": "#d2d2d2", "strokeWidth": 1.5},
          "encoding": {"x": {"field": "cen", "type": "quantitative", "axis": null}}
        },
        {
          "data": {"values": [{"t": "Fisher\np-value\nlog"}]},
          "mark": {"type": "text", "align": "left", "baseline": "alphabetic", "font": "Liberation Sans", "fontSize": 38, "lineBreak": "\n", "lineHeight": 43.5, "color": "#000000"},
          "encoding": {
            "text": {"field": "t"},
            "x": {"datum": -338.4, "axis": null},
            "y": {"datum": 2.36, "axis": null}
          }
        },
        {
          "data": {"values": [{"t": "black ➡ gains"}]},
          "mark": {"type": "text", "align": "left", "baseline": "alphabetic", "font": "DejaVu Sans", "fontWeight": "bold", "fontSize": 29, "color": "#000000"},
          "encoding": {
            "text": {"field": "t"},
            "x": {"datum": 50.8, "axis": null},
            "y": {"datum": 6.26, "axis": null}
          }
        },
        {
          "data": {"values": [{"t": "red ➡ losses"}]},
          "mark": {"type": "text", "align": "right", "baseline": "alphabetic", "font": "DejaVu Sans", "fontWeight": "bold", "fontSize": 29, "color": "#ff0000"},
          "encoding": {
            "text": {"field": "t"},
            "x": {"datum": 2987.4, "axis": null},
            "y": {"datum": 6.26, "axis": null}
          }
        }
      ]
    },
    {
      "width": 1615,
      "height": 198,
      "layer": [
        {
          "data": {"name": "segE"},
          "mark": {"type": "rect", "strokeWidth": 0.6},
          "encoding": {
            "x": {"field": "s", "type": "quantitative", "scale": {"domain": [0, 3036.25], "nice": false, "zero": false}, "axis": null},
            "x2": {"field": "e"},
            "y": {"field": "v", "type": "quantitative", "scale": {"domain": [-100, 100], "nice": false, "zero": false},
                  "axis": {"title": null, "values": [-90, -60, -30, 0, 30, 60, 90], "labelFontSize": 6, "labelColor": "#999999", "ticks": false, "domain": false, "grid": false, "labelPadding": 7}},
            "y2": {"datum": 0},
            "color": {"condition": {"test": "datum.v < 0", "value": "#ff0000"}, "value": "#000000"},
            "stroke": {"condition": {"test": "datum.v < 0", "value": "#ff0000"}, "value": "#000000"}
          }
        },
        {
          "data": {"name": "spkE"},
          "mark": {"type": "rule", "strokeWidth": 1},
          "encoding": {
            "x": {"field": "x", "type": "quantitative", "axis": null},
            "y": {"field": "v", "type": "quantitative", "axis": null},
            "y2": {"datum": 0},
            "color": {"condition": {"test": "datum.v < 0", "value": "#ff4a4a"}, "value": "#262626"}
          }
        },
        {
          "data": {"name": "chr"},
          "transform": [{"filter": "datum.s > 0"}],
          "mark": {"type": "rule", "color": "#8c8c8c", "strokeWidth": 1.5},
          "encoding": {"x": {"field": "s", "type": "quantitative", "axis": null}}
        },
        {
          "data": {"name": "chr"},
          "mark": {"type": "rule", "color": "#d2d2d2", "strokeWidth": 1.5},
          "encoding": {"x": {"field": "cen", "type": "quantitative", "axis": null}}
        },
        {
          "data": {"values": [{"t": "CN frequency"}]},
          "mark": {"type": "text", "angle": 270, "align": "center", "baseline": "alphabetic", "font": "Liberation Sans", "fontSize": 24, "color": "#a6a6a6"},
          "encoding": {
            "text": {"field": "t"},
            "x": {"datum": -50.8, "axis": null},
            "y": {"datum": 1.5, "axis": null}
          }
        },
        {
          "data": {"values": [{"t": "EMZL"}]},
          "mark": {"type": "text", "align": "left", "baseline": "alphabetic", "font": "Liberation Sans", "fontWeight": "bold", "fontSize": 38, "color": "#ff0000"},
          "encoding": {
            "text": {"field": "t"},
            "x": {"datum": -338.4, "axis": null},
            "y": {"datum": 5.5, "axis": null}
          }
        },
        {
          "data": {"values": [{"t": "n= 72"}]},
          "mark": {"type": "text", "align": "left", "baseline": "alphabetic", "font": "Liberation Sans", "fontSize": 38, "color": "#000000"},
          "encoding": {
            "text": {"field": "t"},
            "x": {"datum": -338.4, "axis": null},
            "y": {"datum": -39.9, "axis": null}
          }
        }
      ]
    },
    {
      "width": 1615,
      "height": 198,
      "layer": [
        {
          "data": {"name": "segS"},
          "mark": {"type": "rect", "strokeWidth": 0.6},
          "encoding": {
            "x": {"field": "s", "type": "quantitative", "scale": {"domain": [0, 3036.25], "nice": false, "zero": false}, "axis": null},
            "x2": {"field": "e"},
            "y": {"field": "v", "type": "quantitative", "scale": {"domain": [-100, 100], "nice": false, "zero": false},
                  "axis": {"title": null, "values": [-90, -60, -30, 0, 30, 60, 90], "labelFontSize": 6, "labelColor": "#999999", "ticks": false, "domain": false, "grid": false, "labelPadding": 7}},
            "y2": {"datum": 0},
            "color": {"condition": {"test": "datum.v < 0", "value": "#ff0000"}, "value": "#000000"},
            "stroke": {"condition": {"test": "datum.v < 0", "value": "#ff0000"}, "value": "#000000"}
          }
        },
        {
          "data": {"name": "spkS"},
          "mark": {"type": "rule", "strokeWidth": 1},
          "encoding": {
            "x": {"field": "x", "type": "quantitative", "axis": null},
            "y": {"field": "v", "type": "quantitative", "axis": null},
            "y2": {"datum": 0},
            "color": {"condition": {"test": "datum.v < 0", "value": "#ff4a4a"}, "value": "#262626"}
          }
        },
        {
          "data": {"name": "chr"},
          "transform": [{"filter": "datum.s > 0"}],
          "mark": {"type": "rule", "color": "#8c8c8c", "strokeWidth": 1.5},
          "encoding": {"x": {"field": "s", "type": "quantitative", "axis": null}}
        },
        {
          "data": {"name": "chr"},
          "mark": {"type": "rule", "color": "#d2d2d2", "strokeWidth": 1.5},
          "encoding": {"x": {"field": "cen", "type": "quantitative", "axis": null}}
        },
        {
          "data": {"name": "chr"},
          "mark": {"type": "text", "align": "center", "baseline": "alphabetic", "font": "DejaVu Sans Condensed", "fontWeight": "bold", "fontSize": 11.5, "color": "#1e1e1e"},
          "encoding": {
            "text": {"field": "c"},
            "x": {"field": "m", "type": "quantitative", "axis": null},
            "y": {"datum": -131.3, "axis": null}
          }
        },
        {
          "data": {"values": [{"t": "CN frequency"}]},
          "mark": {"type": "text", "angle": 270, "align": "center", "baseline": "alphabetic", "font": "Liberation Sans", "fontSize": 24, "color": "#a6a6a6"},
          "encoding": {
            "text": {"field": "t"},
            "x": {"datum": -50.8, "axis": null},
            "y": {"datum": 1.5, "axis": null}
          }
        },
        {
          "data": {"values": [{"t": "SMZL"}]},
          "mark": {"type": "text", "align": "left", "baseline": "alphabetic", "font": "Liberation Sans", "fontWeight": "bold", "fontSize": 38, "color": "#ff0000"},
          "encoding": {
            "text": {"field": "t"},
            "x": {"datum": -338.4, "axis": null},
            "y": {"datum": 2.0, "axis": null}
          }
        },
        {
          "data": {"values": [{"t": "n=105"}]},
          "mark": {"type": "text", "align": "left", "baseline": "alphabetic", "font": "Liberation Sans", "fontSize": 38, "color": "#000000"},
          "encoding": {
            "text": {"field": "t"},
            "x": {"datum": -338.4, "axis": null},
            "y": {"datum": -44.4, "axis": null}
          }
        }
      ]
    }
  ]
}
